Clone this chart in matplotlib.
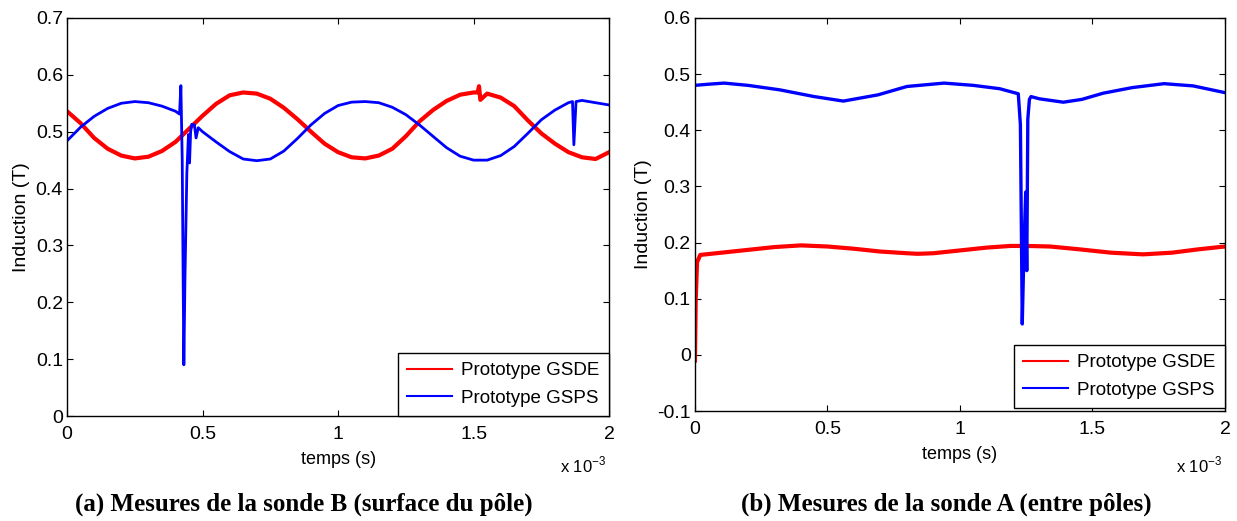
import matplotlib.pyplot as plt
from matplotlib.ticker import FormatStrFormatter, MultipleLocator

plt.rcParams.update(
    {
        "font.family": "Liberation Sans",
        "axes.unicode_minus": False,
        "mathtext.fontset": "custom",
        "mathtext.rm": "Liberation Sans",
        "xtick.direction": "in",
        "ytick.direction": "in",
        "xtick.top": True,
        "ytick.right": True,
    }
)

# time axis in ms (plotted with an "x 10^-3" multiplier, like MATLAB)
# --- (a) sonde B, surface du pôle
t_gsde_b = [0.0, 0.05, 0.10, 0.15, 0.20, 0.25, 0.30, 0.35, 0.40, 0.45, 0.50, 0.55,
            0.60, 0.65, 0.70, 0.75, 0.80, 0.85, 0.90, 0.95, 1.00, 1.05, 1.10, 1.15,
            1.20, 1.25, 1.30, 1.35, 1.40, 1.45, 1.50, 1.515, 1.52, 1.525, 1.55, 1.60,
            1.65, 1.70, 1.75, 1.80, 1.85, 1.90, 1.95, 2.00]
b_gsde_b = [0.536, 0.515, 0.489, 0.470, 0.458, 0.453, 0.456, 0.466, 0.482, 0.505, 0.528, 0.549,
            0.564, 0.569, 0.567, 0.558, 0.542, 0.522, 0.500, 0.479, 0.464, 0.455, 0.453, 0.458,
            0.470, 0.492, 0.518, 0.538, 0.554, 0.565, 0.569, 0.569, 0.580, 0.556, 0.567, 0.560,
            0.545, 0.520, 0.497, 0.479, 0.464, 0.455, 0.452, 0.464]

t_gsps_b = [0.0, 0.05, 0.10, 0.15, 0.20, 0.25, 0.30, 0.35, 0.40, 0.415, 0.42, 0.425,
            0.428, 0.431, 0.435, 0.442, 0.448, 0.452, 0.456, 0.46, 0.47, 0.476, 0.484,
            0.50, 0.55, 0.60, 0.65, 0.70, 0.75, 0.80, 0.85, 0.90, 0.95, 1.00, 1.05,
            1.10, 1.15, 1.20, 1.25, 1.30, 1.35, 1.40, 1.45, 1.50, 1.55, 1.60, 1.65,
            1.70, 1.75, 1.80, 1.85, 1.865, 1.87, 1.878, 1.90, 1.95, 2.00]
b_gsps_b = [0.484, 0.508, 0.527, 0.541, 0.550, 0.553, 0.551, 0.545, 0.536, 0.531, 0.581, 0.45,
            0.26, 0.090, 0.24, 0.427, 0.495, 0.445, 0.500, 0.513, 0.512, 0.489, 0.507,
            0.500, 0.482, 0.465, 0.452, 0.449, 0.452, 0.466, 0.488, 0.512, 0.532, 0.546, 0.552,
            0.553, 0.551, 0.543, 0.530, 0.512, 0.492, 0.472, 0.457, 0.450, 0.450, 0.458, 0.474,
            0.497, 0.521, 0.538, 0.551, 0.553, 0.477, 0.553, 0.555, 0.551, 0.547]

# --- (b) sonde A, entre pôles
t_gsde_a = [0.0, 0.003, 0.008, 0.02, 0.10, 0.20, 0.30, 0.40, 0.50, 0.60, 0.70, 0.80,
            0.84, 0.90, 1.00, 1.10, 1.19, 1.25, 1.34, 1.45, 1.57, 1.69, 1.80, 1.90, 2.00]
b_gsde_a = [-0.01, 0.10, 0.165, 0.178, 0.182, 0.187, 0.192, 0.195, 0.193, 0.189, 0.184, 0.181,
            0.180, 0.181, 0.186, 0.191, 0.194, 0.194, 0.193, 0.188, 0.182, 0.179, 0.182, 0.188, 0.193]

t_gsps_a = [0.0, 0.05, 0.11, 0.20, 0.32, 0.45, 0.56, 0.69, 0.80, 0.94, 1.05, 1.15,
            1.22, 1.228, 1.235, 1.242, 1.248, 1.252, 1.256, 1.262, 1.268, 1.30, 1.39,
            1.46, 1.54, 1.65, 1.77, 1.88, 2.00]
b_gsps_a = [0.480, 0.482, 0.484, 0.480, 0.472, 0.460, 0.452, 0.463, 0.478, 0.484, 0.480, 0.474,
            0.465, 0.41, 0.055, 0.20, 0.29, 0.15, 0.42, 0.455, 0.460, 0.456, 0.450,
            0.455, 0.466, 0.476, 0.483, 0.479, 0.467]

labels = ["Prototype GSDE", "Prototype GSPS"]
captions = ["(a) Mesures de la sonde B (surface du pôle)",
            "(b) Mesures de la sonde A (entre pôles)"]

fig = plt.figure(figsize=(12.37, 5.21), dpi=100)
ax_b = fig.add_axes([0.0542, 0.2015, 0.4382, 0.764])
ax_a = fig.add_axes([0.5618, 0.2111, 0.4285, 0.7544])

panels = [
    (ax_b, t_gsde_b, b_gsde_b, t_gsps_b, b_gsps_b, (0, 0.7), 3.0, 2.0, 13.5, 0),
    (ax_a, t_gsde_a, b_gsde_a, t_gsps_a, b_gsps_a, (-0.1, 0.6), 3.0, 2.4, 13.5, 3),
]

for ax, tr, br, tb, bb, ylim, lw_r, lw_b, leg_fs, leg_dy in panels:
    ax.plot(tr, br, color="#ff0000", lw=lw_r, label=labels[0])
    ax.plot(tb, bb, color="#0000ff", lw=lw_b, label=labels[1])
    ax.set_xlim(0, 2)
    ax.set_ylim(*ylim)
    ax.xaxis.set_major_locator(MultipleLocator(0.5))
    ax.yaxis.set_major_locator(MultipleLocator(0.1))
    ax.xaxis.set_major_formatter(FormatStrFormatter("%g"))
    ax.yaxis.set_major_formatter(FormatStrFormatter("%g"))
    ax.tick_params(labelsize=14, length=4, width=0.8)
    ax.tick_params(axis="x", pad=7)
    ax.tick_params(axis="y", pad=3)
    for sp in ax.spines.values():
        sp.set_linewidth(1.0)
    ax.set_xlabel("temps (s)", fontsize=13, labelpad=6)
    ax.set_ylabel("Induction (T)", fontsize=14, labelpad=4)
    # MATLAB-style exponent under the right end of the x axis
    x_right = ax.get_position().x1
    fig.text(x_right - 0.002, 0.107, r"x 10$^{\mathregular{-3}}$", ha="right",
             va="center", fontsize=12)
    leg = ax.legend(loc="lower right", fontsize=leg_fs, fancybox=False,
                    edgecolor="black", framealpha=1,
                    bbox_to_anchor=(1.0, leg_dy / ax.bbox.height),
                    borderaxespad=0.0, handlelength=2.4, handletextpad=0.5,
                    labelspacing=0.55, borderpad=0.5)
    leg.get_frame().set_linewidth(1.0)
    for line in leg.get_lines():
        line.set_linewidth(1.5)

fig.text(0.246, 0.032, captions[0], ha="center", va="center", fontsize=18,
         family="Liberation Serif", weight="bold")
fig.text(0.765, 0.032, captions[1], ha="center", va="center", fontsize=18,
         family="Liberation Serif", weight="bold")

fig.savefig("out.png", dpi=100)
